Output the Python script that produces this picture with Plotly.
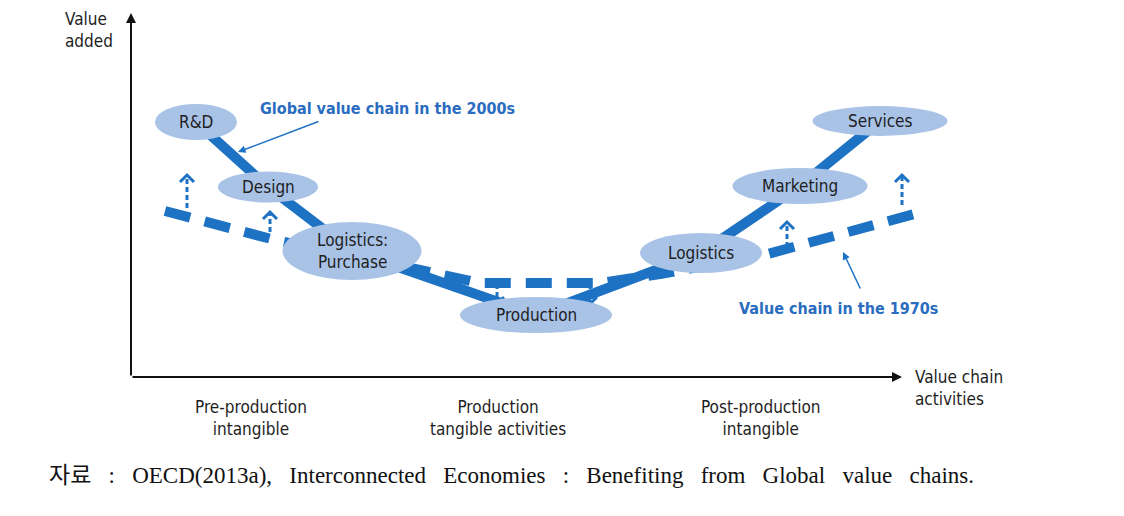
import plotly.graph_objects as go

# ---- data (x: position along value chain, y: value added, both in chart units) ----
nodes = ["R&D", "Design", "Logistics:<br>Purchase", "Production", "Logistics", "Marketing", "Services"]
node_x = [65, 137, 221, 405, 570, 669, 749]
node_y = [255, 190, 126, 62, 124, 191, 256]

chain1970_x = [34, 144, 289, 349, 469, 529, 633, 787]
chain1970_y = [166, 137, 107, 94, 94, 103, 122, 164]

shift_x = [56, 139, 366, 459, 656, 771]
shift_from = [169, 145, 93, 93, 130, 172]
shift_to = [202, 165, 73, 73, 155, 202]

stage_labels = ["Pre-production<br>intangible", "Production<br>tangible activities", "Post-production<br>intangible"]
stage_x = [120, 367, 630]

source_words = ["자료", ":", "OECD(2013a),", "Interconnected", "Economies", ":",
                "Benefiting", "from", "Global", "value", "chains."]

# ---- styles ----
BLUE = "#1d72c4"
FILL = "#a9c3e6"
TXT = "#1e1e1e"
NARROW = "Liberation Sans Narrow, DejaVu Sans Condensed, Arial Narrow, sans-serif"
node_w = [82, 100, 139, 152, 122, 135, 135]
node_h = [36, 31, 58, 36, 40, 36, 30]

fig = go.Figure()

# 2000s global value chain (solid thick)
fig.add_trace(go.Scatter(x=node_x, y=node_y, mode="lines",
                         line=dict(color=BLUE, width=10), hoverinfo="skip", showlegend=False))
# 1970s value chain (dashed thick)
fig.add_trace(go.Scatter(x=chain1970_x, y=chain1970_y, mode="lines",
                         line=dict(color=BLUE, width=10, dash="26px,15px"),
                         hoverinfo="skip", showlegend=False))

# shift arrows: dashed shaft + chevron head
for sx, y0, y1 in zip(shift_x, shift_from, shift_to):
    d = 1 if y1 > y0 else -1
    fig.add_trace(go.Scatter(x=[sx, sx], y=[y0, y1], mode="lines",
                             line=dict(color=BLUE, width=3, dash="5px,3px"),
                             hoverinfo="skip", showlegend=False))
    fig.add_trace(go.Scatter(x=[sx - 7, sx, sx + 7], y=[y1 - 7 * d, y1, y1 - 7 * d], mode="lines",
                             line=dict(color=BLUE, width=3), hoverinfo="skip", showlegend=False))

# ellipses + labels
for name, x, y, w, h in zip(nodes, node_x, node_y, node_w, node_h):
    fig.add_shape(type="circle", xref="x", yref="y", x0=x - w / 2, x1=x + w / 2,
                  y0=y - h / 2, y1=y + h / 2, fillcolor=FILL, line=dict(width=0), layer="above")
    fig.add_annotation(x=x, y=y, text=name, showarrow=False,
                       font=dict(family=NARROW, size=17, color=TXT))

# axes
fig.add_annotation(x=0, y=364, ax=0, ay=0, xref="x", yref="y", axref="x", ayref="y",
                   text="", showarrow=True, arrowhead=2, arrowsize=1, arrowwidth=2, arrowcolor="#111")
fig.add_annotation(x=771, y=0, ax=0, ay=0, xref="x", yref="y", axref="x", ayref="y",
                   text="", showarrow=True, arrowhead=2, arrowsize=1, arrowwidth=2, arrowcolor="#111")

fig.add_annotation(x=-68, y=347, text="Value<br>added", showarrow=False, xanchor="left", align="left",
                   font=dict(family=NARROW, size=17, color=TXT))
fig.add_annotation(x=782, y=-11, text="Value chain<br>activities", showarrow=False, xanchor="left", align="left",
                   font=dict(family=NARROW, size=17, color=TXT))

for lab, sx in zip(stage_labels, stage_x):
    fig.add_annotation(x=sx, y=-41, text=lab, showarrow=False,
                       font=dict(family=NARROW, size=17, color=TXT))

# callouts
fig.add_annotation(x=107, y=225, ax=189, ay=256, xref="x", yref="y", axref="x", ayref="y",
                   text="", showarrow=True, arrowhead=2, arrowsize=1, arrowwidth=1.5, arrowcolor=BLUE)
fig.add_annotation(x=127, y=269, text="<b>Global value chain in the 2000s</b>", showarrow=False, xanchor="left",
                   font=dict(family=NARROW, size=16, color="#2a6cc0"))
fig.add_annotation(x=712, y=125, ax=730, ay=87, xref="x", yref="y", axref="x", ayref="y",
                   text="", showarrow=True, arrowhead=2, arrowsize=1, arrowwidth=1.5, arrowcolor=BLUE)
fig.add_annotation(x=707, y=69, text="<b>Value chain in the 1970s</b>", showarrow=False,
                   font=dict(family=NARROW, size=16, color="#2a6cc0"))

# source
fig.add_annotation(x=-84, y=-98, xanchor="left",
                   text="\u00a0\u00a0\u00a0".join(source_words),
                   showarrow=False,
                   font=dict(family="Liberation Serif, Noto Sans CJK KR, serif", size=23, color="#111"))

# page body has an 8px margin: shrink the figure and keep a 1:1 pixel scale
fig.update_layout(
    width=1116, height=508, margin=dict(l=0, r=0, t=0, b=0),
    paper_bgcolor="white", plot_bgcolor="white",
    xaxis=dict(range=[-123, 993], visible=False, fixedrange=True),
    yaxis=dict(range=[-139, 369], visible=False, fixedrange=True),
    showlegend=False,
)

fig.write_html("out.html")
